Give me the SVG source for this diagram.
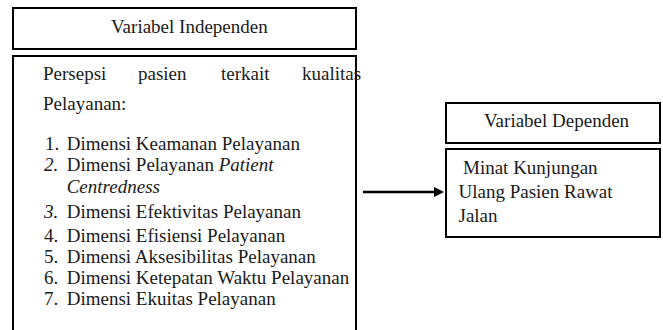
<svg xmlns="http://www.w3.org/2000/svg" width="663" height="330" viewBox="0 0 663 330" font-family="'Liberation Serif', 'DejaVu Serif', serif" font-size="19">
<style>
.box{fill:#fff;stroke:#000;stroke-width:2}
text{font-family:'Liberation Serif','DejaVu Serif',serif;font-size:19px;fill:#1a1a1a}
.i{font-style:italic}
</style>
<rect width="663" height="330" fill="#fff"/>
<g id="independen-header">
<rect class="box" x="13" y="8" width="343" height="41"/>
<text x="111" y="33">Variabel Independen</text>
</g>
<g id="independen-body">
<rect class="box" x="13" y="56" width="343" height="290"/>
<text y="80"><tspan x="43">Persepsi</tspan><tspan x="138">pasien</tspan><tspan x="221">terkait</tspan><tspan x="302">kualitas</tspan></text>
<text x="43" y="110">Pelayanan:</text>
<text x="45" y="149.5">1.</text><text x="66.7" y="149.5">Dimensi Keamanan Pelayanan</text>
<text class="i" x="44" y="171">2.</text><text x="66.7" y="171">Dimensi Pelayanan <tspan class="i">Patient</tspan></text>
<text class="i" x="66.7" y="192.5">Centredness</text>
<text class="i" x="44" y="218">3.</text><text x="66.7" y="218">Dimensi Efektivitas Pelayanan</text>
<text x="44" y="241.5">4.</text><text x="66.7" y="241.5">Dimensi Efisiensi Pelayanan</text>
<text x="44" y="262.7">5.</text><text x="66.7" y="262.7">Dimensi Aksesibilitas Pelayanan</text>
<text x="44" y="283.5">6.</text><text x="66.7" y="283.5">Dimensi Ketepatan Waktu Pelayanan</text>
<text x="44" y="305">7.</text><text x="66.7" y="305">Dimensi Ekuitas Pelayanan</text>
</g>
<g id="dependen-header">
<rect class="box" x="446" y="103" width="214" height="40"/>
<text x="484" y="127">Variabel Dependen</text>
</g>
<g id="dependen-body">
<rect class="box" x="446" y="149" width="214" height="88"/>
<text x="463" y="174">Minat Kunjungan</text>
<text x="458.5" y="198.3">Ulang Pasien Rawat</text>
<text x="458.5" y="221.7">Jalan</text>
</g>
<g id="connectors">
<line x1="363" y1="192" x2="436" y2="192" stroke="#000" stroke-width="2.5"/>
<polygon points="434,187 444,192 434,197" fill="#000"/>
</g>
</svg>
